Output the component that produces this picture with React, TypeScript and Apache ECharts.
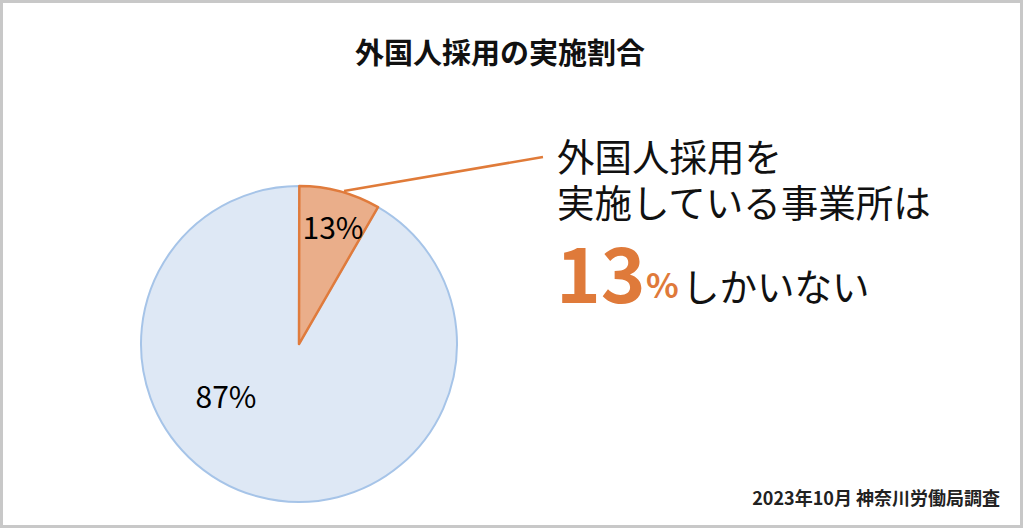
import React, { useEffect, useRef } from "react";
import * as echarts from "echarts";

// Data
const categories = ["実施していない", "外国人採用を実施"];
// Drawn shares (slice angles as drawn in the reference picture)
const drawnShares = [91.7, 8.3];
const sliceLabels = ["87%", "13%"];
const titleText = "外国人採用の実施割合";
const calloutLine1 = "外国人採用を";
const calloutLine2 = "実施している事業所は";
const calloutNumber = "13";
const calloutPct = "%";
const calloutTail = "しかいない";
const sourceText = "2023年10月 神奈川労働局調査";

const FONT = '"Noto Sans CJK JP", "Noto Sans", sans-serif';

export default function App() {
  const ref = useRef<HTMLDivElement>(null);
  useEffect(() => {
    if (!ref.current) return;
    const chart = echarts.init(ref.current, null, { renderer: "svg" });
    const labelPos: Record<number, [number, number]> = {
      0: [226, 395],
      1: [333, 226],
    };
    chart.setOption({
      animation: false,
      backgroundColor: "#ffffff",
      title: {
        text: titleText,
        left: 495,
        top: 31,
        textAlign: "center",
        textStyle: { fontFamily: FONT, fontSize: 29, fontWeight: "bold", color: "#111" },
      },
      series: [
        {
          type: "pie",
          center: [299, 344],
          radius: 158,
          startAngle: 60,
          clockwise: true,
          silent: true,
          data: categories.map((name, i) => ({
            name,
            value: drawnShares[i],
            itemStyle:
              i === 1
                ? { color: "#EAAE8A", borderColor: "#E07B3C", borderWidth: 2.5 }
                : { color: "#DEE8F5", borderColor: "#A6C4E8", borderWidth: 2 },
          })),
          label: {
            show: true,
            position: "inside",
            formatter: (p: any) => sliceLabels[p.dataIndex],
            fontFamily: FONT,
            fontSize: 30,
            color: "#000",
          },
          labelLine: { show: false },
          labelLayout: (p: any) => ({
            x: labelPos[p.dataIndex][0],
            y: labelPos[p.dataIndex][1],
            align: "center",
            verticalAlign: "middle",
          }),
        },
      ],
      graphic: [
        {
          type: "rect",
          shape: { x: 1.5, y: 1.5, width: 1020, height: 525 },
          style: { fill: "none", stroke: "#C8C8C8", lineWidth: 3 },
          silent: true,
        },
        {
          type: "line",
          shape: { x1: 344, y1: 191, x2: 543, y2: 157 },
          style: { stroke: "#E07B39", lineWidth: 2.5 },
        },
        {
          type: "text",
          x: 557,
          y: 154,
          style: {
            text: calloutLine1,
            fontFamily: FONT,
            fontSize: 37.5,
            lineHeight: 36,
            fill: "#111",
            verticalAlign: "middle",
          },
        },
        {
          type: "text",
          x: 557,
          y: 200,
          style: {
            text: calloutLine2,
            fontFamily: FONT,
            fontSize: 37.5,
            lineHeight: 36,
            fill: "#111",
            verticalAlign: "middle",
          },
        },
        {
          type: "text",
          x: 556,
          y: 270,
          style: {
            text: calloutNumber,
            fontFamily: FONT,
            fontSize: 76,
            lineHeight: 60,
            fontWeight: "bold",
            fill: "#DF7A3A",
            verticalAlign: "middle",
          },
        },
        {
          type: "text",
          x: 646,
          y: 283,
          style: {
            text: calloutPct,
            fontFamily: FONT,
            fontSize: 34,
            lineHeight: 32,
            fontWeight: "bold",
            fill: "#DF7A3A",
            verticalAlign: "middle",
          },
        },
        {
          type: "text",
          x: 682,
          y: 284,
          style: {
            text: calloutTail,
            fontFamily: FONT,
            fontSize: 37.5,
            lineHeight: 36,
            fill: "#111",
            verticalAlign: "middle",
          },
        },
        {
          type: "text",
          x: 1000,
          y: 497,
          style: {
            text: sourceText,
            fontFamily: FONT,
            fontSize: 18,
            fontWeight: "bold",
            fill: "#222",
            align: "right",
            verticalAlign: "middle",
          },
        },
      ],
    });
    return () => chart.dispose();
  }, []);
  return (
    <div
      ref={ref}
      style={{ position: "absolute", left: 0, top: 0, width: 1024, height: 529 }}
    />
  );
}
